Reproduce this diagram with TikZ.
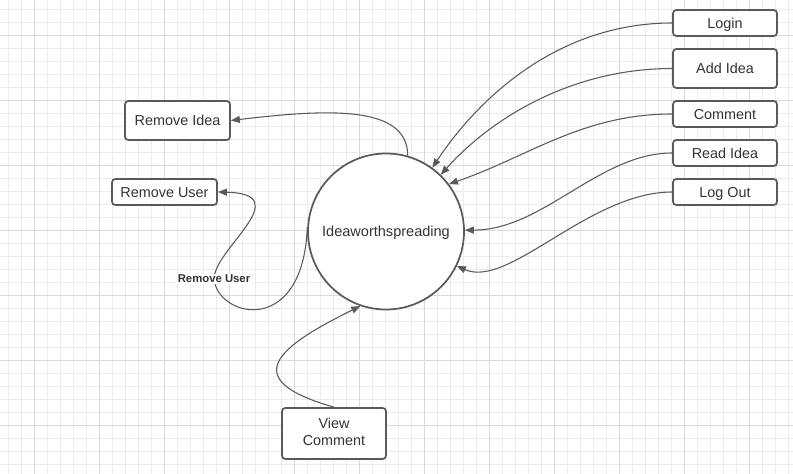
\documentclass[tikz,border=0pt]{standalone}
\usepackage{fontspec}
\setmainfont{Liberation Sans}
\usetikzlibrary{arrows.meta,positioning}

\definecolor{edgegray}{HTML}{5A5A5A}
\definecolor{textgray}{HTML}{333333}
\definecolor{gridminor}{HTML}{EBEBEB}
\definecolor{gridmajor}{HTML}{D9D9D9}

\begin{document}
\begin{tikzpicture}[
  x=0.75pt, y=-0.75pt,
  procbox/.style={draw=edgegray, fill=white, line width=1.3pt, rounded corners=2.5pt, minimum width=78pt, minimum height=19.5pt, align=center, inner sep=0pt, text=textgray, font=\fontsize{10.8}{12.75}\selectfont},
  oneline/.style={text height=7.7pt, text depth=0pt},
  procnode/.style={circle, draw=edgegray, fill=white, line width=1.3pt, minimum size=117pt, inner sep=0pt, text=textgray, font=\fontsize{10.9}{12.75}\selectfont},
  flow/.style={draw=edgegray, line width=0.8pt, -{Triangle[length=6.75pt,width=5.25pt]}},
  flowlabel/.style={fill=white, inner sep=1pt, text=textgray, font=\bfseries\fontsize{8.5}{10}\selectfont},
]
% Canvas and grid
\useasboundingbox (0,0) rectangle (793,474);
\fill[white] (0,0) rectangle (793,474);
\foreach \gx in {8.5,21.5,...,792} \draw[gridminor, line width=0.75pt] (\gx,0) -- (\gx,474);
\foreach \gy in {9.5,22.5,...,473} \draw[gridminor, line width=0.75pt] (0,\gy) -- (793,\gy);
\foreach \gx in {34.5,99.5,...,792} \draw[gridmajor, line width=0.75pt] (\gx,0) -- (\gx,474);
\foreach \gy in {35.5,100.5,...,473} \draw[gridmajor, line width=0.75pt] (0,\gy) -- (793,\gy);
% Central process
\node[procnode, oneline] (idea) at (386,231.5) {Ideaworthspreading};
% Right column
\node[procbox, oneline] (login) at (725,23) {Login};
\node[procbox, oneline, minimum height=29.25pt] (addidea) at (725,68.5) {Add Idea};
\node[procbox, oneline] (comment) at (725,114) {Comment};
\node[procbox, oneline] (readidea) at (725,153) {Read Idea};
\node[procbox, oneline] (logout) at (725,192) {Log Out};
% Left column
\node[procbox, oneline, minimum width=78.75pt, minimum height=29.25pt] (rmidea) at (177.5,120.5) {Remove Idea};
\node[procbox, oneline, minimum width=78.75pt] (rmuser) at (164.5,192) {Remove User};
% Bottom
\node[procbox, minimum height=38.25pt, text depth=3pt] (viewcomment) at (334,433.5) {View\\Comment};
% Flows into the process
\draw[flow] (login.west) .. controls +(-113,0) and +(47,-71) .. (idea.54);
\draw[flow] (addidea.west) .. controls +(-103,0) and +(48,-54) .. (idea.46);
\draw[flow] (comment.west) .. controls +(-90,0) and +(79,-27) .. (idea.37);
\draw[flow] (readidea.west) .. controls +(-73,0) and +(78,0) .. (idea.1);
\draw[flow] (logout.west) .. controls +(-83,0) and +(52,23) .. (idea.-26);
\draw[flow] (viewcomment.north) .. controls +(-99,-28) and +(-81,40) .. (idea.-109);
% Flows out of the process
\draw[flow] (idea.74) .. controls +(0,-50) and +(100,-12) .. (rmidea.east);
\coordinate (bend) at (214,279);
\draw[flow] (idea.177) .. controls +(-4,110) and +(4,39) .. (bend) node[flowlabel] {Remove User}
  .. controls +(0,-30) and +(80,2) .. (rmuser.east);
\end{tikzpicture}
\end{document}
